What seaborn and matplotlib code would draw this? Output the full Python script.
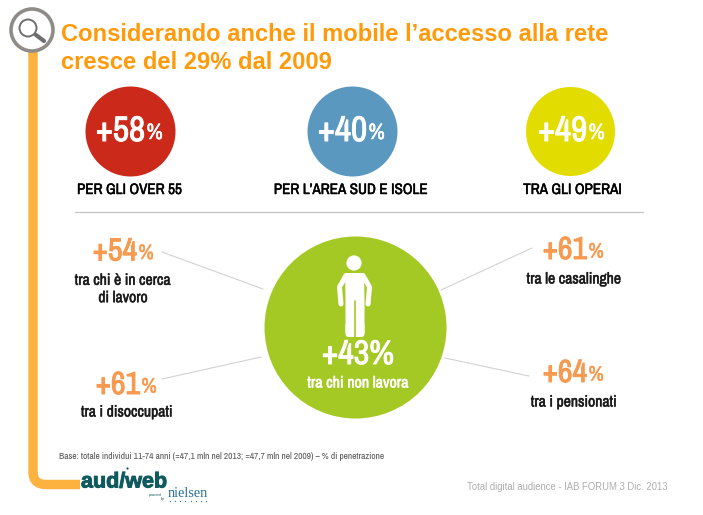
import matplotlib
matplotlib.use("Agg")
import matplotlib.pyplot as plt
import matplotlib.patheffects as pe
import numpy as np
import pandas as pd
import seaborn as sns
from matplotlib.patches import Circle, FancyBboxPatch, PathPatch
from matplotlib.path import Path

# values
title_lines = ["Considerando anche il mobile l\u2019accesso alla rete", "cresce del 29% dal 2009"]
top_values = [58, 40, 49]
top_labels = ["PER GLI OVER 55", "PER L\u2019AREA SUD E ISOLE", "TRA GLI OPERAI"]
side_values = [54, 61, 61, 64]
side_labels = ["tra chi \u00e8 in cerca\ndi lavoro", "tra i disoccupati", "tra le casalinghe", "tra i pensionati"]
center_value = 43
center_label = "tra chi non lavora"
base_note = "Base: totale individui 11-74 anni (=47,1 mln nel 2013; =47,7 mln nel 2009) \u2013 % di penetrazione"
footer_note = "Total digital audience - IAB FORUM 3 Dic. 2013"

W, H = 703, 515
ORANGE = "#ff9a0a"
SOFT = "#f79a50"
GREEN = "#a5c924"
TEAL = "#0f5a5f"
NARROW = ["Archivo Narrow", "Liberation Sans"]

sns.set_theme(style="white")
plt.rcParams["font.family"] = ["Liberation Sans", "DejaVu Sans"]

fig = plt.figure(figsize=(W / 100, H / 100), dpi=100)
ax = fig.add_axes([0, 0, 1, 1])

# big discs
discs = pd.DataFrame({
    "x": [129.5, 352, 570, 355],
    "y": [131, 131, 131, 327],
    "d": [90, 90, 89, 182],
    "color": ["#cb2a1b", "#5b98c0", "#e3dc00", GREEN],
})
for _, row in discs.iterrows():
    sns.scatterplot(x=[row["x"]], y=[row["y"]], color=row["color"], s=(row["d"] * 0.72) ** 2,
                    linewidth=0, legend=False, ax=ax, zorder=2)
ax.set_xlim(0, W)
ax.set_ylim(H, 0)
ax.axis("off")


def heavy(x, y, s, color, size, stroke=0.35, **kw):
    # the narrow font only ships one weight, so thicken it with a stroke
    t = ax.text(x, y, s, color=color, fontsize=size, family=NARROW, zorder=5, **kw)
    t.set_path_effects([pe.withStroke(linewidth=stroke, foreground=color)])
    return t


# timeline bar with rounded corner
bar = Path([(33, 50), (33, 472), (33, 484.5), (46, 484.5), (80, 484.5)],
           [Path.MOVETO, Path.LINETO, Path.CURVE3, Path.CURVE3, Path.LINETO])
ax.add_patch(PathPatch(bar, fc="none", ec="#fdb240", lw=6.8, capstyle="butt", zorder=1))

# magnifier icon
ax.add_patch(Circle((32, 30), 21, fc="white", ec="#8f8b87", lw=2.6, zorder=3))
ax.add_patch(Circle((28, 28), 8.5, fc="white", ec="#6e6e6e", lw=1.4, zorder=4))
ax.plot([36, 44], [35, 41], color="#6e6e6e", lw=3, solid_capstyle="round", zorder=4)

# title
ax.text(61, 34.5, title_lines[0], color=ORANGE, fontsize=17.15, fontweight="bold", va="center")
ax.text(61, 62.5, title_lines[1], color=ORANGE, fontsize=17.15, fontweight="bold", va="center")

# divider and connectors
ax.plot([75, 643], [212, 212], color="#c4c4c4", lw=0.9)
for xs, ys in [([162, 263], [252, 289]), ([162, 261], [379, 357]),
               ([441, 532], [290, 248]), ([445, 529], [358, 376])]:
    ax.plot(xs, ys, color="#d2d2d2", lw=0.8)


def percent(x, y, value, color, big, small):
    heavy(x, y, f"+{value}", color, big, stroke=0.7, ha="right", va="center")
    heavy(x + 1.5, y + 2, "%", color, small, stroke=0.4, ha="left", va="center")


for v, lab, x, lx in zip(top_values, top_labels, [145, 367, 587], [129, 350, 572]):
    percent(x, 131, v, "white", 25.5, 16)
    heavy(lx, 190, lab, "black", 10.9, ha="center", va="center")

# side figures
side_pos = [(137, 251.5, 123, 289), (140, 385, 127, 412), (587, 250, 574, 279), (587, 373, 574, 402)]
for v, lab, (x, y, lx, ly) in zip(side_values, side_labels, side_pos):
    percent(x, y, v, SOFT, 23, 15)
    heavy(lx, ly, lab, "#1a1a1a", 11.3, ha="center", va="center", linespacing=1.2)

# person in the green disc
ax.add_patch(Circle((354, 263), 7.6, fc="white", ec="none", zorder=4))
body = Path([(345, 273), (364, 273), (364.5, 300), (364.5, 333), (345.5, 333), (345.5, 300), (345, 273)])
ax.add_patch(PathPatch(body, fc="white", ec="none", zorder=4))
ax.plot([346, 339.5, 341], [275.5, 287, 304], color="white", lw=3.6, solid_capstyle="round", zorder=4)
ax.plot([363, 369.5, 368], [275.5, 287, 304], color="white", lw=3.6, solid_capstyle="round", zorder=4)
ax.add_patch(FancyBboxPatch((345.5, 322), 19, 15, boxstyle="round,pad=0,rounding_size=3", fc="white", ec="none", zorder=4))
ax.plot([354.7, 354.7], [301, 338], color=GREEN, lw=1.2, zorder=5)

heavy(358, 355, f"+{center_value}%", "white", 24.5, stroke=0.7, ha="center", va="center")
heavy(358, 383, center_label, "white", 11.5, ha="center", va="center")

# footnotes and logo
ax.text(59, 456.5, base_note, color="#555555", fontsize=6.75, family=NARROW, va="center")
ax.text(467, 487, footer_note, color="#adadad", fontsize=6.85, va="center")
logo = ax.text(81, 487.5, "aud/web", color=TEAL, fontsize=15.5, fontweight="bold", va="baseline")
logo.set_path_effects([pe.withStroke(linewidth=0.7, foreground=TEAL)])
ax.plot([127], [468], marker="o", ms=1.6, color=TEAL, mew=0)
ax.text(149, 495, "powered", color=TEAL, fontsize=2.4, va="center")
ax.text(161, 499, "by", color=TEAL, fontsize=2.6, va="center")
ax.text(168, 497, "nielsen", color="#2a6f97", fontsize=10.3, family="Liberation Serif", va="baseline")
ax.plot(np.linspace(170, 206, 8), [500.5] * 8, ls="none", marker="o", ms=0.9, color="#2a6f97", mew=0)

fig.savefig("out.png", dpi=100)
